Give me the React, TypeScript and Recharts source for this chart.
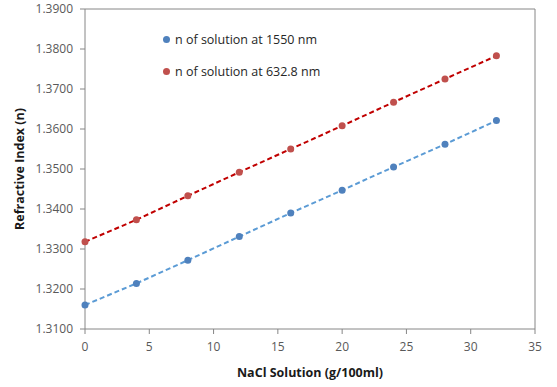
import { Line, LineChart, ReferenceLine, XAxis, YAxis } from "recharts";

const concentrations = [0, 4, 8, 12, 16, 20, 24, 28, 32];
const n1550 = [1.316, 1.3214, 1.3272, 1.3331, 1.339, 1.3447, 1.3505, 1.3562, 1.3621];
const n6328 = [1.3318, 1.3373, 1.3433, 1.3492, 1.355, 1.3608, 1.3667, 1.3725, 1.3783];
const xTicks = [0, 5, 10, 15, 20, 25, 30, 35];
const yTicks = [1.31, 1.32, 1.33, 1.34, 1.35, 1.36, 1.37, 1.38, 1.39];

const data = concentrations.map((c, i) => ({ c, a: n1550[i], b: n6328[i] }));

const font = "'Open Sans', 'Liberation Sans', sans-serif";
const axisColor = "#868686";
const tickStyle = { fill: "#595959", fontSize: 12, fontFamily: font };

const legendItems = [
	{ label: "n of solution at 1550 nm", color: "#4F81BD" },
	{ label: "n of solution at 632.8 nm", color: "#C0504D" },
];

// legend sits inside the plot, so it is an overlay rather than a recharts Legend
function LegendBox() {
	return (
		<div
			style={{
				position: "absolute",
				left: 163,
				top: 23,
				fontFamily: font,
				fontSize: 12.5,
				color: "#262626",
			}}
		>
			{legendItems.map((item) => (
				<div
					key={item.label}
					style={{ display: "flex", alignItems: "center", height: 32 }}
				>
					<span
						style={{
							width: 7,
							height: 7,
							borderRadius: "50%",
							background: item.color,
							marginRight: 5,
						}}
					/>
					{item.label}
				</div>
			))}
		</div>
	);
}

export default function App() {
	return (
		<div style={{ position: "absolute", left: 0, top: 0, width: 557, height: 387, background: "#fff" }}>
			<LineChart
				width={557}
				height={387}
				data={data}
				margin={{ top: 9, right: 22, left: 0, bottom: 0 }}
			>
				<XAxis
					dataKey="c"
					type="number"
					domain={[0, 35]}
					ticks={xTicks}
					height={58}
					stroke={axisColor}
					tick={tickStyle}
					tickSize={5}
					tickMargin={8}
					label={{
						value: "NaCl Solution (g/100ml)",
						position: "insideBottom",
						offset: 10,
						style: { fill: "#1a1a1a", fontWeight: 700, fontSize: 12.5, fontFamily: font },
					}}
				/>
				<YAxis
					type="number"
					domain={[1.31, 1.39]}
					ticks={yTicks}
					width={85}
					stroke={axisColor}
					tick={tickStyle}
					tickSize={5}
					tickMargin={7}
					tickFormatter={(v: number) => v.toFixed(4)}
					label={{
						value: "Refractive Index (n)",
						angle: -90,
						position: "insideLeft",
						offset: 20,
						style: {
							textAnchor: "middle",
							fill: "#1a1a1a",
							fontWeight: 700,
							fontSize: 12.5,
							fontFamily: font,
						},
					}}
				/>
				<ReferenceLine y={1.39} stroke={axisColor} />
				<ReferenceLine x={35} stroke={axisColor} />
				<Line
					dataKey="a"
					stroke="#5B9BD5"
					strokeWidth={2}
					strokeDasharray="5 3"
					dot={{ r: 3.5, fill: "#4F81BD", stroke: "#4F81BD", strokeWidth: 0 }}
					isAnimationActive={false}
				/>
				<Line
					dataKey="b"
					stroke="#C00000"
					strokeWidth={2}
					strokeDasharray="5 3"
					dot={{ r: 3.5, fill: "#C0504D", stroke: "#C0504D", strokeWidth: 0 }}
					isAnimationActive={false}
				/>
			</LineChart>
			<LegendBox />
		</div>
	);
}
